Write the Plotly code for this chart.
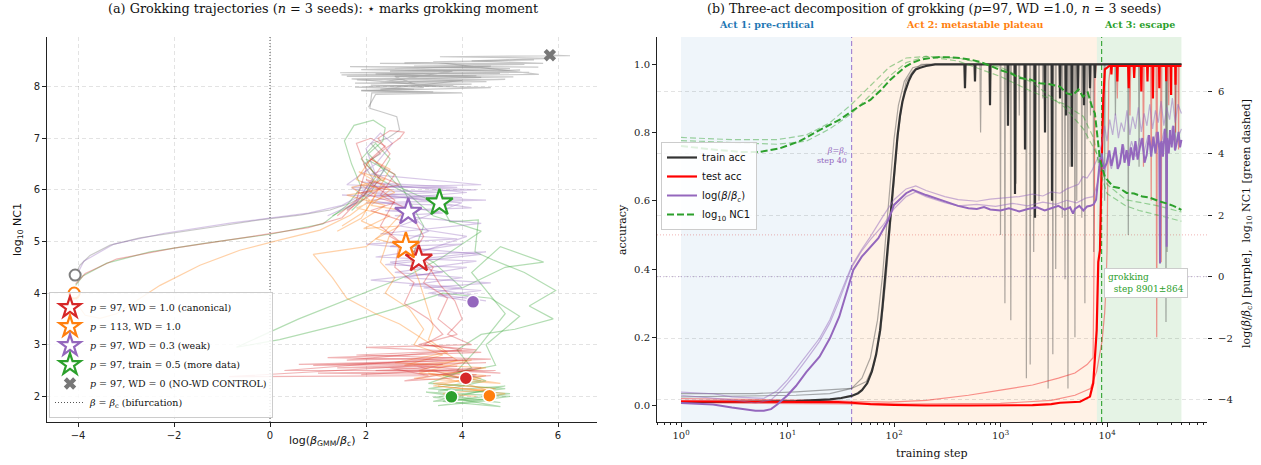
import math
import plotly.graph_objects as go

SERIF = "DejaVu Serif"
SANS = "DejaVu Sans"

RED, ORANGE, PURPLE, GREEN, GRAY = "#d62728", "#ff7f0e", "#9467bd", "#2ca02c", "#7f7f7f"

# ---------------------------------------------------------------------------
# Panel (a): trajectories in (log(beta_GMM/beta_c), log10 NC1), 3 seeds/config
# ---------------------------------------------------------------------------
RED_RUNS = [
    [(-4.05, 4.18), (-3.85, 4.38), (-3.2, 4.66), (-2.0, 4.87), (-0.5, 5.08), (0.8, 5.27), (1.5, 5.46),
     (1.9, 5.85), (2.3, 6.2), (2.0, 6.5), (2.4, 6.8), (2.7, 7.0), (2.8, 7.12), (2.5, 7.15), (2.25, 7.0),
     (2.5, 6.7), (2.2, 6.3), (2.7, 6.1), (1.9, 5.95), (2.6, 5.75), (2.1, 5.6), (2.75, 5.4), (2.5, 5.1),
     (2.95, 4.85), (3.1, 4.66), (3.35, 4.45), (3.55, 4.15), (3.85, 3.85), (4.0, 3.5), (3.7, 3.2),
     (4.2, 3.0), (2.0, 2.95), (4.4, 2.85), (1.2, 2.75), (4.1, 2.7), (0.6, 2.62), (4.5, 2.65),
     (1.4, 2.55), (3.9, 2.58), (2.2, 2.5), (4.7, 2.5), (1.0, 2.45), (4.3, 2.42), (4.08, 2.35)],
    [(1.4, 5.5), (1.8, 5.8), (2.0, 6.4), (1.8, 6.9), (2.1, 7.0), (2.4, 6.85), (2.1, 6.6), (2.6, 6.3),
     (2.3, 5.9), (2.9, 5.6), (3.2, 5.1), (3.0, 4.8), (3.4, 4.5), (3.2, 4.2), (3.7, 3.9), (3.5, 3.5),
     (3.9, 3.2), (3.1, 3.0), (4.3, 2.9), (1.8, 2.8), (4.6, 2.72), (0.9, 2.6), (3.6, 2.62),
     (-0.85, 2.38), (3.3, 2.4), (2.5, 2.55), (4.8, 2.45), (3.0, 2.6), (4.2, 2.3)],
    [(1.6, 5.6), (2.1, 5.9), (2.4, 6.1), (2.0, 6.2), (2.6, 5.8), (2.3, 5.3), (2.7, 5.0), (2.6, 4.5),
     (3.0, 4.2), (2.8, 3.8), (3.3, 3.5), (3.6, 3.2), (3.2, 3.0), (4.0, 2.9), (1.6, 2.7), (3.8, 2.75),
     (0.3, 2.5), (3.5, 2.5), (1.9, 2.42), (4.4, 2.55), (2.8, 2.3), (4.6, 2.4)],
]

ORANGE_RUNS = [
    [(-4.08, 4.0), (-3.95, 3.7), (-3.85, 3.57), (-3.54, 3.51), (-3.2, 3.6), (-2.92, 3.77), (-2.29, 4.15),
     (-1.46, 4.54), (-0.63, 4.83), (0.21, 5.03), (1.04, 5.22), (1.67, 5.51), (2.08, 5.8), (1.7, 6.05),
     (2.4, 6.2), (1.85, 6.35), (2.6, 5.95), (1.8, 5.65), (2.5, 5.5), (1.95, 5.25), (2.7, 5.3),
     (2.2, 5.05), (2.83, 4.91), (2.95, 4.6), (3.1, 4.25), (3.25, 3.8), (3.4, 3.35), (3.3, 3.1),
     (3.7, 2.85), (2.6, 2.65), (4.5, 2.55), (3.0, 2.35), (4.8, 2.25), (3.3, 2.45), (4.6, 2.1),
     (3.5, 2.2), (4.9, 2.05), (4.57, 2.01)],
    [(1.5, 5.3), (2.0, 5.6), (2.5, 6.4), (2.1, 6.6), (1.8, 6.2), (2.3, 6.0), (1.6, 5.9), (2.4, 5.7),
     (1.9, 5.4), (2.5, 5.15), (2.3, 4.6), (2.6, 4.3), (2.4, 4.0), (2.9, 3.7), (3.2, 3.3), (3.0, 3.0),
     (3.6, 2.8), (2.8, 2.6), (4.2, 2.7), (3.1, 2.45), (4.4, 2.35), (3.4, 2.25), (4.7, 2.15), (3.6, 2.05),
     (4.3, 2.0)],
    [(1.4, 5.2), (1.9, 5.45), (2.2, 5.9), (1.9, 6.1), (2.5, 6.0), (2.1, 5.7), (2.8, 5.6), (2.4, 5.2),
     (2.0, 4.9), (0.9, 4.75), (1.3, 4.3), (1.6, 3.9), (2.2, 3.6), (2.7, 3.4), (3.2, 3.1), (3.9, 2.7),
     (3.1, 2.5), (4.5, 2.4), (3.4, 2.2), (4.6, 2.1)],
]

PURPLE_RUNS = [
    [(-4.05, 4.3), (-3.88, 4.62), (-3.25, 4.95), (-2.2, 5.16), (-0.8, 5.36), (0.8, 5.55), (1.5, 5.7),
     (1.9, 5.9), (2.2, 6.3), (2.0, 6.8), (2.3, 7.1), (2.55, 6.9), (2.2, 6.5), (1.6, 6.1), (4.3, 6.0),
     (1.8, 5.95), (4.0, 5.85), (1.5, 5.9), (4.5, 5.8), (2.0, 5.75), (3.8, 5.7), (1.7, 6.02), (4.2, 5.65),
     (2.4, 5.6), (2.88, 5.57), (3.3, 5.2), (2.5, 4.9), (4.0, 4.95), (2.2, 4.7), (4.3, 4.62), (2.6, 4.4),
     (4.0, 4.3), (2.9, 4.15), (4.4, 4.05), (3.5, 3.95), (4.23, 3.83)],
    [(1.2, 5.5), (1.8, 5.75), (2.05, 6.1), (2.3, 6.05), (3.9, 6.05), (1.9, 6.15), (4.1, 5.95),
     (2.1, 5.8), (3.6, 5.55), (2.6, 5.5), (4.4, 5.35), (2.3, 5.15), (3.9, 5.05), (2.0, 4.95),
     (4.4, 4.75), (2.4, 4.55), (4.1, 4.5), (2.8, 4.3), (4.6, 4.2), (3.2, 4.1), (4.3, 3.95), (3.8, 3.9)],
    [(1.6, 5.62), (2.0, 5.95), (2.4, 6.4), (2.1, 6.3), (4.4, 6.1), (1.7, 6.05), (3.5, 5.95), (2.2, 5.9),
     (4.0, 5.75), (2.7, 5.3), (4.1, 5.1), (3.0, 4.75), (4.5, 4.8), (2.5, 4.6), (3.6, 4.4), (2.1, 4.25),
     (4.0, 4.1), (3.3, 4.0), (4.5, 3.85)],
]

GREEN_RUNS = [
    [(-4.05, 4.15), (-3.9, 4.33), (-3.4, 4.58), (-2.5, 4.8), (-1.4, 4.96), (0.0, 5.14), (1.1, 5.34),
     (1.6, 5.7), (1.9, 6.05), (1.7, 6.5), (1.55, 6.95), (1.75, 7.25), (2.15, 7.35), (2.4, 7.2),
     (2.35, 6.95), (2.05, 6.7), (2.45, 6.3), (2.7, 6.05), (3.06, 5.9), (3.53, 5.75), (3.75, 5.38),
     (4.34, 5.42), (4.27, 4.8), (4.65, 4.64), (5.3, 4.4), (5.95, 4.05), (5.4, 3.75), (5.9, 3.5),
     (5.1, 3.3), (4.4, 3.2), (3.9, 2.9), (4.2, 2.55), (3.3, 2.25), (4.9, 2.15), (3.4, 1.98),
     (4.8, 1.88), (3.25, 2.08), (5.0, 2.0), (3.5, 1.82), (4.6, 1.92), (3.78, 1.99)],
    [(1.7, 5.6), (2.1, 5.95), (2.5, 6.6), (2.2, 6.9), (1.9, 6.6), (2.3, 6.2), (2.9, 5.9), (3.4, 5.5),
     (4.4, 5.2), (3.6, 4.7), (2.9, 4.35), (1.7, 3.9), (0.6, 3.5), (-0.7, 2.95), (0.2, 3.1), (1.5, 3.4),
     (2.6, 3.7), (3.6, 4.0), (4.6, 3.9), (5.2, 3.55), (4.5, 3.0), (4.7, 2.6), (3.6, 2.4), (4.4, 2.3),
     (3.3, 2.15), (5.0, 2.05), (3.6, 1.9), (4.8, 1.8), (3.9, 1.95)],
    [(1.3, 5.5), (1.9, 5.8), (2.2, 6.25), (2.0, 6.6), (2.6, 6.3), (3.2, 5.3), (3.0, 4.8), (3.4, 4.6),
     (4.0, 4.1), (4.9, 4.5), (5.7, 4.6), (4.8, 4.9), (4.2, 4.4), (4.9, 3.6), (4.3, 2.9), (3.9, 2.5),
     (4.5, 2.3), (3.5, 2.1), (4.9, 2.2), (3.4, 1.9), (4.7, 1.95)],
]

GRAY_RUNS = [
    [(-4.06, 4.35), (-3.96, 4.54), (-3.75, 4.73), (-3.33, 4.93), (-2.71, 5.07), (-1.88, 5.18),
     (-1.04, 5.3), (-0.21, 5.42), (0.62, 5.51), (1.25, 5.61), (1.67, 5.74), (1.98, 5.9), (2.15, 6.2),
     (1.95, 6.5), (2.3, 6.7), (2.1, 6.9), (2.45, 7.0), (2.7, 7.16), (2.64, 7.42), (2.3, 7.52),
     (2.08, 7.58), (2.12, 7.88), (3.4, 7.9), (1.9, 7.93), (3.0, 7.95), (1.77, 7.99), (3.82, 8.02),
     (2.0, 8.0), (4.2, 8.05), (1.77, 8.07), (4.51, 8.1), (2.3, 8.08), (4.9, 8.14), (1.81, 8.13),
     (5.07, 8.19), (1.6, 8.2), (4.3, 8.21), (1.49, 8.23), (4.79, 8.26), (1.46, 8.27), (5.21, 8.32),
     (2.5, 8.3), (5.0, 8.35), (1.67, 8.39), (5.59, 8.38), (3.0, 8.4), (5.3, 8.43), (2.29, 8.45),
     (5.69, 8.45), (4.2, 8.5), (5.9, 8.55), (3.54, 8.58), (6.25, 8.6), (5.83, 8.61)],
    [(2.05, 7.6), (2.2, 7.85), (4.0, 7.88), (1.9, 7.92), (4.6, 7.98), (2.1, 8.03), (3.6, 8.0),
     (1.7, 8.15), (4.4, 8.18), (2.2, 8.25), (5.4, 8.28), (2.6, 8.35), (4.6, 8.4), (1.9, 8.33),
     (3.8, 8.3), (2.4, 8.1), (4.0, 8.12), (2.3, 7.95), (3.2, 7.98), (2.6, 8.2), (5.6, 8.24),
     (3.4, 8.48), (5.5, 8.52), (2.8, 8.46)],
]

# start / grokking / end markers: order = canonical, p=113, weak WD, more data
CONFIG_NAMES = [
    "<i>p</i> = 97, WD = 1.0 (canonical)",
    "<i>p</i> = 113, WD = 1.0",
    "<i>p</i> = 97, WD = 0.3 (weak)",
    "<i>p</i> = 97, train = 0.5 (more data)",
]
CONFIG_COLORS = [RED, ORANGE, PURPLE, GREEN]
GROK_X = [3.10, 2.83, 2.88, 3.53]
GROK_Y = [4.66, 4.91, 5.57, 5.75]
END_X = [4.08, 4.57, 4.23, 3.78]
END_Y = [2.35, 2.01, 3.83, 1.99]
START_X = [-4.06, -4.08]
START_Y = [4.35, 4.00]
START_COLORS = [GRAY, ORANGE]
NOWD_END = (5.83, 8.61)
NOWD_NAME = "<i>p</i> = 97, WD = 0 (NO-WD CONTROL)"

# ---------------------------------------------------------------------------
# Panel (b): three-act decomposition (p=97, WD=1.0), mean + 3 seeds
# ---------------------------------------------------------------------------
CRIT_STEP = 40
GROK_STEP, GROK_STD = 8901, 864
ACT_BOUNDS = [1, 40, 8037, 50000]
ACT_LABELS = ["Act 1: pre-critical", "Act 2: metastable plateau", "Act 3: escape"]
ACT_COLORS = ["#1f77b4", "#ff7f0e", "#2ca02c"]
ACT_FILLS = ["rgba(31,119,180,0.07)", "rgba(255,127,14,0.10)", "rgba(44,160,44,0.12)"]

TRAIN_MEAN = [
    (1, 0.010), (2, 0.010), (3, 0.010), (5, 0.011), (8, 0.012), (12, 0.013), (18, 0.015), (25, 0.018),
    (32, 0.022), (40, 0.028), (46, 0.036), (50, 0.045), (56, 0.065), (62, 0.10), (68, 0.15), (74, 0.22),
    (78, 0.29), (82, 0.37), (87, 0.45), (92, 0.54), (97, 0.63), (102, 0.72), (108, 0.79), (114, 0.85),
    (120, 0.89), (127, 0.92), (137, 0.95), (147, 0.97), (160, 0.985), (176, 0.99), (200, 0.995),
    (243, 1.0), (458, 1.0), (464, 0.93), (470, 1.0), (570, 1.0), (576, 0.95), (582, 1.0), (789, 1.0),
    (797, 0.88), (805, 1.0), (1163, 1.0), (1175, 0.82), (1187, 1.0), (1354, 1.0), (1368, 0.62),
    (1382, 1.0), (1681, 1.0), (1698, 0.75), (1715, 1.0), (2087, 1.0), (2108, 0.55), (2129, 1.0),
    (2591, 1.0), (2617, 0.8), (2643, 1.0), (3016, 1.0), (3046, 0.6), (3076, 1.0), (3584, 1.0),
    (3620, 0.9), (3656, 1.0), (4081, 1.0), (4122, 0.85), (4163, 1.0), (4646, 1.0), (4693, 0.7),
    (4740, 1.0), (5289, 1.0), (5342, 0.92), (5395, 1.0), (6020, 1.0), (6081, 0.88), (6142, 1.0),
    (6854, 1.0), (6923, 0.93), (6992, 1.0), (7635, 1.0), (7712, 0.96), (7789, 1.0), (50000, 1.0),
]
TRAIN_SEED_A = [
    (1, 0.025), (5, 0.028), (12, 0.03), (25, 0.035), (40, 0.05), (50, 0.08), (60, 0.14), (70, 0.25),
    (78, 0.38), (85, 0.52), (92, 0.65), (100, 0.78), (110, 0.88), (125, 0.95), (150, 0.99), (200, 1.0),
    (640, 1.0), (650, 0.8), (660, 1.0), (990, 1.0), (1000, 0.5), (1010, 1.0), (1238, 1.0), (1250, 0.25),
    (1262, 1.0), (1485, 1.0), (1500, 0.85), (1515, 1.0), (1880, 1.0), (1900, 0.12), (1920, 1.0),
    (2277, 1.0), (2300, 0.6), (2323, 1.0), (2772, 1.0), (2800, 0.05), (2828, 1.0), (3267, 1.0),
    (3300, 0.4), (3333, 1.0), (3993, 1.0), (4033, 0.37), (4073, 1.0), (4455, 1.0), (4500, 0.7),
    (4545, 1.0), (4950, 1.0), (5000, 0.2), (5050, 1.0), (5742, 1.0), (5800, 0.55), (5858, 1.0),
    (6435, 1.0), (6500, 0.78), (6565, 1.0), (7425, 1.0), (7500, 0.45), (7575, 1.0), (15690, 1.0),
    (15850, 0.5), (16010, 1.0), (36330, 1.0), (36700, 0.45), (37070, 1.0), (50000, 1.0),
]
TRAIN_SEED_B = [
    (1, 0.035), (5, 0.035), (12, 0.04), (25, 0.045), (40, 0.05), (55, 0.07), (65, 0.12), (75, 0.22),
    (84, 0.37), (92, 0.52), (100, 0.66), (108, 0.78), (118, 0.88), (130, 0.95), (150, 0.98), (180, 1.0),
    (792, 1.0), (800, 0.9), (808, 1.0), (1089, 1.0), (1100, 0.3), (1111, 1.0), (1386, 1.0), (1400, 0.65),
    (1414, 1.0), (1732, 1.0), (1750, 0.08), (1768, 1.0), (2030, 1.0), (2050, 0.45), (2070, 1.0),
    (2475, 1.0), (2500, 0.9), (2525, 1.0), (3069, 1.0), (3100, 0.15), (3131, 1.0), (3762, 1.0),
    (3800, 0.55), (3838, 1.0), (4257, 1.0), (4300, 0.05), (4343, 1.0), (5148, 1.0), (5200, 0.6),
    (5252, 1.0), (6138, 1.0), (6200, 0.3), (6262, 1.0), (6930, 1.0), (7000, 0.85), (7070, 1.0),
    (9405, 1.0), (9500, 0.6), (9595, 1.0), (11880, 1.0), (12000, 0.85), (12120, 1.0), (19800, 1.0),
    (20000, 0.7), (20200, 1.0), (35440, 1.0), (35800, 0.245), (36160, 1.0), (43560, 1.0), (44000, 0.75),
    (44440, 1.0), (50000, 1.0),
]

TEST_MEAN = [
    (1, 0.012), (3, 0.012), (10, 0.012), (20, 0.011), (30, 0.010), (40, 0.008), (60, 0.004),
    (100, 0.002), (200, 0.0), (500, 0.0), (1000, 0.0), (2000, 0.001), (3000, 0.004), (3620, 0.008),
    (5580, 0.011), (6920, 0.026), (7430, 0.066), (8000, 0.22), (8280, 0.42), (8590, 0.455),
    (8910, 0.71), (9230, 0.90), (9550, 0.985), (10500, 0.995), (10900, 0.995), (11000, 0.97),
    (11100, 0.995), (12400, 0.995), (12500, 0.95), (12600, 0.995), (15800, 0.995), (16000, 0.93),
    (16200, 0.995), (17800, 0.995), (18000, 0.96), (18200, 0.995), (20800, 0.995), (21000, 0.92),
    (21200, 0.995), (23800, 0.995), (24000, 0.95), (24200, 0.995), (26800, 0.995), (27000, 0.9),
    (27200, 0.995), (30800, 0.995), (31000, 0.93), (31200, 0.995), (35800, 0.995), (36000, 0.95),
    (36200, 0.995), (39800, 0.995), (40000, 0.91), (40200, 0.995), (43800, 0.995), (44000, 0.94),
    (44200, 0.995), (50000, 0.995),
]
TEST_SEED_A = [
    (1, 0.02), (5, 0.018), (20, 0.015), (40, 0.012), (90, 0.01), (200, 0.015), (500, 0.03),
    (1000, 0.045), (2000, 0.06), (3500, 0.08), (5000, 0.095), (6500, 0.12), (7400, 0.14),
    (7600, 0.5), (7700, 0.95), (7900, 1.0), (16200, 1.0), (16440, 0.85), (16700, 1.0), (21700, 1.0),
    (22000, 0.7), (22300, 1.0), (28900, 1.0), (29300, 0.2), (29700, 1.0), (37500, 1.0), (38000, 0.88),
    (38500, 1.0), (43500, 1.0), (44000, 0.8), (44500, 1.0), (50000, 1.0),
]
TEST_SEED_B = [
    (1, 0.008), (40, 0.005), (100, 0.004), (1000, 0.006), (3000, 0.015), (5000, 0.03), (7000, 0.05),
    (8000, 0.1), (9000, 0.19), (9500, 0.27), (9800, 0.35), (10000, 0.45), (10200, 0.7), (10400, 0.95),
    (10800, 1.0), (12300, 1.0), (12500, 0.9), (12700, 1.0), (25700, 1.0), (26000, 0.6), (26300, 1.0),
    (31900, 1.0), (32300, 0.42), (32700, 1.0), (46500, 1.0), (47000, 0.75), (47500, 1.0), (50000, 1.0),
]

LOGBETA_MEAN = [
    (1, -4.1), (2, -4.15), (3, -4.25), (4, -4.32), (5, -4.35), (6, -4.35), (7, -4.3), (8, -4.15),
    (10, -3.85), (12, -3.55), (15, -3.1), (20, -2.6), (25, -2.0), (30.6, -1.3), (34.7, -0.7),
    (41.5, 0.22), (49.8, 0.65), (61.8, 1.03), (71.3, 1.25), (88.5, 1.84), (100, 2.33), (130, 2.71),
    (150, 2.82), (200, 2.65), (270, 2.49), (400, 2.3), (500, 2.22), (600, 2.2), (700, 2.26),
    (800, 2.18), (1000, 2.15), (1200, 2.22), (1500, 2.12), (1800, 2.2), (2200, 2.25), (2600, 2.15),
    (3000, 2.22), (3500, 2.3), (4000, 2.18), (4500, 2.25), (4800, 2.05), (5000, 2.2), (5500, 2.3),
    (6000, 2.15), (6500, 2.28), (7000, 2.3), (7500, 2.35), (7900, 2.5), (8100, 2.9), (8290, 3.36),
    (8600, 3.8), (8920, 4.0), (9300, 3.5), (9930, 3.68), (10500, 4.1), (11000, 3.6), (11470, 3.9),
    (12000, 4.2), (12600, 3.5), (13250, 3.68), (14000, 4.3), (14600, 3.7), (15300, 4.11), (16000, 3.6),
    (16800, 4.2), (17670, 3.79), (18500, 4.4), (19400, 3.8), (20410, 4.22), (21500, 4.5), (22500, 3.7),
    (23580, 3.95), (24800, 4.6), (26000, 3.9), (27220, 4.55), (28500, 4.0), (30000, 4.7), (31000, 4.1),
    (31450, 0.43), (31900, 4.3), (32600, 4.4), (33500, 3.9), (35000, 4.8), (36000, 4.2), (36310, 0.97),
    (36700, 4.5), (38000, 4.0), (39040, 4.76), (40500, 4.2), (42000, 4.9), (43500, 4.1), (45110, 4.33),
    (47000, 4.7), (48500, 4.2), (50000, 4.44),
]
LOGBETA_SEED_A = [
    (1, -3.75), (2, -3.8), (3, -3.9), (5, -3.95), (6, -3.95), (8, -3.7), (10, -3.35), (12, -3.0),
    (15, -2.55), (20, -2.0), (25, -1.4), (30, -0.7), (35, -0.1), (40, 0.35), (50, 0.9), (60, 1.3),
    (80, 2.0), (100, 2.5), (130, 2.85), (160, 2.95), (200, 2.8), (300, 2.6), (400, 2.5), (600, 2.45),
    (800, 2.52), (1000, 2.55), (1500, 2.6), (2000, 2.68), (2500, 2.62), (3000, 2.75), (3620, 2.71),
    (4200, 2.85), (4800, 2.92), (5400, 3.0), (5940, 3.25), (6500, 3.2), (7230, 3.45), (7800, 3.68),
    (8300, 3.9), (8900, 4.3), (9500, 4.9), (10000, 4.4), (10600, 5.1), (11300, 4.6), (12000, 5.3),
    (12800, 4.5), (13600, 5.0), (14500, 4.7), (15400, 5.4), (16400, 4.6), (17400, 5.2), (18500, 4.8),
    (19700, 5.5), (21000, 4.7), (22300, 5.3), (23700, 4.9), (25200, 5.6), (26800, 4.8), (28500, 5.4),
    (30300, 5.0), (32200, 5.7), (34200, 4.9), (36400, 5.5), (38700, 5.1), (41100, 5.8), (43700, 5.0),
    (46400, 5.6), (50000, 5.3),
]
LOGBETA_SEED_B = [
    (1, -3.85), (3, -4.0), (5, -4.1), (7, -4.0), (9, -3.65), (12, -3.15), (15, -2.7), (20, -2.1),
    (25, -1.5), (30, -0.85), (40, 0.3), (50, 0.85), (60, 1.2), (80, 1.7), (100, 2.2), (130, 2.6),
    (160, 2.75), (200, 2.6), (300, 2.4), (400, 2.3), (600, 2.35), (900, 2.28), (1300, 2.38),
    (1800, 2.3), (2500, 2.42), (3300, 2.35), (4200, 2.48), (5200, 2.4), (6300, 2.55), (7400, 2.6),
    (8100, 3.0), (8700, 3.6), (9400, 3.3), (10200, 3.9), (11000, 3.5), (12000, 4.1), (13000, 3.6),
    (14200, 4.3), (15500, 3.8), (17000, 4.4), (18600, 3.9), (20300, 4.5), (22200, 4.0), (24300, 4.6),
    (26500, 4.1), (29000, 4.7), (31700, 4.2), (34600, 4.8), (37800, 4.3), (41300, 4.9), (45100, 4.4),
    (50000, 4.8),
]

NC1_MEAN = [
    (1, 4.24), (1.5, 4.17), (2.3, 4.11), (3.6, 4.05), (5.5, 4.05), (8.5, 4.17), (13, 4.4), (20, 4.76),
    (31, 5.1), (39.4, 5.35), (48, 5.55), (60, 5.74), (75, 6.05), (92, 6.39), (110, 6.62), (127, 6.81),
    (150, 6.95), (176, 7.04), (220, 7.1), (271, 7.13), (340, 7.12), (417, 7.1), (520, 7.05),
    (643, 6.97), (800, 6.85), (989, 6.71), (1250, 6.6), (1523, 6.45), (1900, 6.4), (2343, 6.28),
    (2900, 6.25), (3620, 6.17), (4200, 5.95), (4800, 5.9), (5400, 6.08), (5940, 5.84), (6600, 5.98),
    (7230, 5.52), (7700, 5.3), (8000, 4.76), (8300, 4.2), (8590, 3.79), (9000, 3.55), (9550, 3.25),
    (10200, 3.12), (11470, 2.92), (13000, 2.88), (15300, 2.72), (18000, 2.7), (21500, 2.6),
    (25000, 2.57), (28000, 2.5), (31450, 2.44), (36000, 2.38), (42000, 2.3), (50000, 2.17),
]
NC1_SEED_A = [
    (1, 4.52), (3, 4.45), (8, 4.45), (15, 4.6), (25, 5.0), (40, 5.6), (60, 6.2), (90, 6.8), (130, 7.1),
    (200, 7.15), (400, 7.0), (1000, 6.5), (2000, 6.0), (4000, 5.6), (6000, 5.2), (7500, 4.5),
    (8500, 3.5), (10000, 2.7), (15000, 2.3), (20000, 2.15), (30000, 2.0), (40000, 1.9), (50000, 1.8),
]
NC1_SEED_B = [
    (1, 4.42), (3, 4.35), (8, 4.3), (15, 4.4), (25, 4.8), (40, 5.3), (60, 5.9), (90, 6.5), (130, 6.95),
    (200, 7.15), (400, 7.1), (1000, 6.8), (2000, 6.3), (4000, 5.5), (6000, 4.8), (8000, 4.0),
    (9000, 3.4), (10000, 3.0), (15000, 2.5), (30000, 2.3), (50000, 2.1),
]

# ---------------------------------------------------------------------------
fig = go.Figure()


def xs(pts):
    return [p[0] for p in pts]


def ys(pts):
    return [p[1] for p in pts]


def line_trace(pts, color, width, axis_x, axis_y, dash=None, name=None, legend=None):
    return go.Scatter(
        x=xs(pts), y=ys(pts), mode="lines",
        line=dict(color=color, width=width, dash=dash),
        xaxis=axis_x, yaxis=axis_y, hoverinfo="skip",
        name=name, showlegend=name is not None, legend=legend,
    )


# ---- panel (a) lines ----
for runs, rgba in [
    (GRAY_RUNS, "rgba(127,127,127,0.42)"),
    (GREEN_RUNS, "rgba(44,160,44,0.36)"),
    (PURPLE_RUNS, "rgba(148,103,189,0.36)"),
    (ORANGE_RUNS, "rgba(255,127,14,0.36)"),
    (RED_RUNS, "rgba(214,39,40,0.34)"),
]:
    for run in runs:
        fig.add_trace(line_trace(run, rgba, 1.2, "x", "y"))

# bifurcation line beta = beta_c
fig.add_trace(go.Scatter(
    x=[0, 0], y=[1.502, 8.963], mode="lines", xaxis="x", yaxis="y",
    line=dict(color="#555555", width=1, dash="1px,2px"), hoverinfo="skip",
    name="<i>β</i> = <i>β</i><sub>c</sub> (bifurcation)", legend="legend", legendrank=6,
))

# start markers
for sx, sy, c in zip(START_X, START_Y, START_COLORS):
    fig.add_trace(go.Scatter(
        x=[sx], y=[sy], mode="markers", xaxis="x", yaxis="y", hoverinfo="skip", showlegend=False,
        marker=dict(symbol="circle", size=11, color="white", line=dict(color=c, width=2)),
    ))

# end markers
for ex, ey, c in zip(END_X, END_Y, CONFIG_COLORS):
    fig.add_trace(go.Scatter(
        x=[ex], y=[ey], mode="markers", xaxis="x", yaxis="y", hoverinfo="skip", showlegend=False,
        marker=dict(symbol="circle", size=13, color=c, line=dict(color="white", width=1.5)),
    ))

# grokking-moment stars (these carry the legend)
for i, (gx, gy, c, nm) in enumerate(zip(GROK_X, GROK_Y, CONFIG_COLORS, CONFIG_NAMES)):
    fig.add_trace(go.Scatter(
        x=[gx], y=[gy], mode="markers", xaxis="x", yaxis="y", hoverinfo="skip",
        marker=dict(symbol="star", size=20, color="white", line=dict(color=c, width=2.2)),
        name=nm, legend="legend", legendrank=i + 1,
    ))

fig.add_trace(go.Scatter(
    x=[NOWD_END[0]], y=[NOWD_END[1]], mode="markers", xaxis="x", yaxis="y", hoverinfo="skip",
    marker=dict(symbol="x", size=11, color="#777777", line=dict(width=0)),
    name=NOWD_NAME, legend="legend", legendrank=5,
))

# ---- panel (b) lines ----
SEED_GRAY = "rgba(70,70,70,0.45)"
SEED_RED = "rgba(240,20,20,0.45)"
SEED_PURPLE = "rgba(148,103,189,0.5)"
SEED_GREEN = "rgba(44,160,44,0.45)"

for s in (TRAIN_SEED_A, TRAIN_SEED_B):
    fig.add_trace(line_trace(s, SEED_GRAY, 1.2, "x2", "y3"))
for s in (TEST_SEED_A, TEST_SEED_B):
    fig.add_trace(line_trace(s, SEED_RED, 1.2, "x2", "y3"))
fig.add_trace(line_trace(TRAIN_MEAN, "#333333", 2.2, "x2", "y3", name="train acc", legend="legend2"))
fig.add_trace(line_trace(TEST_MEAN, "#ff0000", 2.2, "x2", "y3", name="test acc", legend="legend2"))

for s in (LOGBETA_SEED_A, LOGBETA_SEED_B):
    fig.add_trace(line_trace(s, SEED_PURPLE, 1.2, "x2", "y4"))
for s in (NC1_SEED_A, NC1_SEED_B):
    fig.add_trace(line_trace(s, SEED_GREEN, 1.2, "x2", "y4", dash="6px,3px"))
fig.add_trace(line_trace(LOGBETA_MEAN, PURPLE, 2.0, "x2", "y4",
                         name="log(<i>β</i>/<i>β</i><sub>c</sub>)", legend="legend2"))
fig.add_trace(line_trace(NC1_MEAN, GREEN, 2.0, "x2", "y4", dash="7px,3px",
                         name="log<sub>10</sub> NC1", legend="legend2"))

# ---- shapes for panel (b) (x in data units on the log axis) ----
shapes = []
for (a, b), fill in zip(zip(ACT_BOUNDS[:-1], ACT_BOUNDS[1:]), ACT_FILLS):
    shapes.append(dict(type="rect", xref="x2", yref="y3 domain", x0=a, x1=b,
                       y0=0, y1=1, fillcolor=fill, line=dict(width=0), layer="below"))
shapes.append(dict(type="line", xref="x2 domain", yref="y3", x0=0, x1=1, y0=0.5, y1=0.5,
                   line=dict(color="rgba(214,39,40,0.35)", width=1, dash="1px,2px"), layer="below"))
shapes.append(dict(type="line", xref="x2 domain", yref="y4", x0=0, x1=1, y0=0, y1=0,
                   line=dict(color="rgba(148,103,189,0.45)", width=1, dash="1px,2px"), layer="below"))
shapes.append(dict(type="line", xref="x2", yref="y3 domain", x0=CRIT_STEP, x1=CRIT_STEP, y0=0, y1=1,
                   line=dict(color="#a07fd0", width=1.1, dash="5px,3px"), layer="below"))
shapes.append(dict(type="line", xref="x2", yref="y3 domain", x0=GROK_STEP, x1=GROK_STEP, y0=0, y1=1,
                   line=dict(color="rgba(44,160,44,0.9)", width=1.2, dash="5px,3px"), layer="below"))

# ---- annotations ----
def paper_y(px):
    return 1 - px / 465


ann = []
ann.append(dict(text="(a) Grokking trajectories (<i>n</i> = 3 seeds): ⋆ marks grokking moment",
                xref="paper", yref="paper", x=324 / 1261, y=paper_y(8), showarrow=False,
                font=dict(family=SERIF, size=12.8, color="#111"), xanchor="center", yanchor="middle"))
ann.append(dict(text="(b) Three-act decomposition of grokking (<i>p</i>=97, WD =1.0, <i>n</i> = 3 seeds)",
                xref="paper", yref="paper", x=934 / 1261, y=paper_y(8), showarrow=False,
                font=dict(family=SERIF, size=12.6, color="#111"), xanchor="center", yanchor="middle"))
for (a, b), lab, col in zip(zip(ACT_BOUNDS[:-1], ACT_BOUNDS[1:]), ACT_LABELS, ACT_COLORS):
    ann.append(dict(text="<b>" + lab + "</b>", xref="x2", yref="paper",
                    x=(math.log10(a) + math.log10(b)) / 2, y=paper_y(24), showarrow=False,
                    font=dict(family=SERIF, size=9.5, color=col), xanchor="center", yanchor="middle"))
ann.append(dict(text="<i>β</i>=<i>β</i><sub>c</sub><br>step %d" % CRIT_STEP, xref="x2", yref="paper",
                x=math.log10(CRIT_STEP), y=paper_y(156), xshift=-3, showarrow=False, align="right",
                font=dict(family=SERIF, size=8, color=PURPLE), xanchor="right", yanchor="middle"))
ann.append(dict(text="grokking<br>\u00a0\u00a0step %d±%d" % (GROK_STEP, GROK_STD), xref="x2", yref="paper",
                x=math.log10(GROK_STEP), y=paper_y(283), xshift=2, showarrow=False, align="left",
                font=dict(family=SERIF, size=9, color=GREEN), xanchor="left", yanchor="middle",
                bgcolor="white", bordercolor="#cccccc", borderwidth=1, borderpad=3))
# axis titles
ann.append(dict(text="log<sub>10</sub> NC1", xref="paper", yref="paper", x=18 / 1261, y=paper_y(230),
                textangle=-90, showarrow=False, font=dict(family=SANS, size=11, color="#111"),
                xanchor="center", yanchor="middle"))
ann.append(dict(text="log(<i>β</i><sub>GMM</sub>/<i>β</i><sub>c</sub>)", xref="paper", yref="paper",
                x=322 / 1261, y=paper_y(441), showarrow=False,
                font=dict(family=SANS, size=11, color="#111"), xanchor="center", yanchor="middle"))
ann.append(dict(text="accuracy", xref="paper", yref="paper", x=622 / 1261, y=paper_y(230),
                textangle=-90, showarrow=False, font=dict(family=SERIF, size=11, color="#111"),
                xanchor="center", yanchor="middle"))
ann.append(dict(text="training step", xref="paper", yref="paper", x=932 / 1261, y=paper_y(453),
                showarrow=False, font=dict(family=SERIF, size=11, color="#111"),
                xanchor="center", yanchor="middle"))
ann.append(dict(text="log(<i>β</i>/<i>β</i><sub>c</sub>) [purple],  log<sub>10</sub> NC1 [green dashed]",
                xref="paper", yref="paper", x=1247 / 1261, y=paper_y(224), textangle=-90,
                showarrow=False, font=dict(family=SERIF, size=11, color="#111"),
                xanchor="center", yanchor="middle"))

# ---- axes ----
YDOM = [1 - 422 / 465, 1 - 37 / 465]
GRID = "rgba(0,0,0,0.11)"
tick_common = dict(ticks="outside", ticklen=4, tickwidth=1, tickcolor="#222", showline=True,
                   linecolor="#222", linewidth=1, zeroline=False)
MINOR_STEPS = [m * 10 ** d for d in range(-1, 5) for m in range(2, 10) if 0.59 < m * 10 ** d < 87000]

fig.update_layout(
    width=1261, height=465, margin=dict(l=0, r=0, t=0, b=0),
    paper_bgcolor="white", plot_bgcolor="white",
    showlegend=True,
    xaxis=dict(domain=[47 / 1261, 597 / 1261], range=[-4.646, 6.812], anchor="y",
               tickvals=[-4, -2, 0, 2, 4, 6], showgrid=True, gridcolor=GRID, griddash="4px,3px",
               gridwidth=1, tickfont=dict(family=SANS, size=10, color="#222"), **tick_common),
    yaxis=dict(domain=YDOM, range=[1.502, 8.963], anchor="x",
               tickvals=[2, 3, 4, 5, 6, 7, 8], showgrid=True, gridcolor=GRID, griddash="4px,3px",
               gridwidth=1, tickfont=dict(family=SANS, size=10, color="#222"), **tick_common),
    xaxis2=dict(domain=[657 / 1261, 1207 / 1261], type="log", range=[-0.2254, 4.939], anchor="y3",
                tickvals=[1, 10, 100, 1000, 10000],
                ticktext=["10<sup>0</sup>", "10<sup>1</sup>", "10<sup>2</sup>", "10<sup>3</sup>",
                          "10<sup>4</sup>"],
                showgrid=False, tickfont=dict(family=SERIF, size=10, color="#222"),
                minor=dict(ticks="outside", ticklen=2, tickwidth=0.8, tickcolor="#222",
                           tickvals=MINOR_STEPS, showgrid=False),
                **tick_common),
    yaxis3=dict(domain=YDOM, range=[-0.0484, 1.080], anchor="x2",
                tickvals=[0, 0.2, 0.4, 0.6, 0.8, 1.0], ticktext=["0.0", "0.2", "0.4", "0.6", "0.8", "1.0"],
                showgrid=False, tickfont=dict(family=SERIF, size=10, color="#222"), **tick_common),
    yaxis4=dict(domain=YDOM, range=[-4.718, 7.782], anchor="x2", overlaying="y3", side="right",
                tickvals=[-4, -2, 0, 2, 4, 6], showgrid=True, gridcolor=GRID, griddash="4px,3px",
                gridwidth=1, tickfont=dict(family=SERIF, size=10, color="#222"),
                ticks="outside", ticklen=4, tickwidth=1, tickcolor="#222", showline=False,
                zeroline=False, ticklabelstandoff=4),
    legend=dict(x=49 / 1261, y=paper_y(418), xanchor="left", yanchor="bottom",
                bgcolor="rgba(255,255,255,0.85)", bordercolor="#cccccc", borderwidth=1,
                font=dict(family=SERIF, size=9.5, color="#111"), itemwidth=30,
                traceorder="normal"),
    legend2=dict(x=661 / 1261, y=paper_y(142), xanchor="left", yanchor="top",
                 bgcolor="rgba(255,255,255,0.85)", bordercolor="#cccccc", borderwidth=1,
                 font=dict(family=SANS, size=10, color="#111"), itemwidth=30,
                 traceorder="normal"),
    shapes=shapes,
    annotations=ann,
)

fig.write_html("out.html")
